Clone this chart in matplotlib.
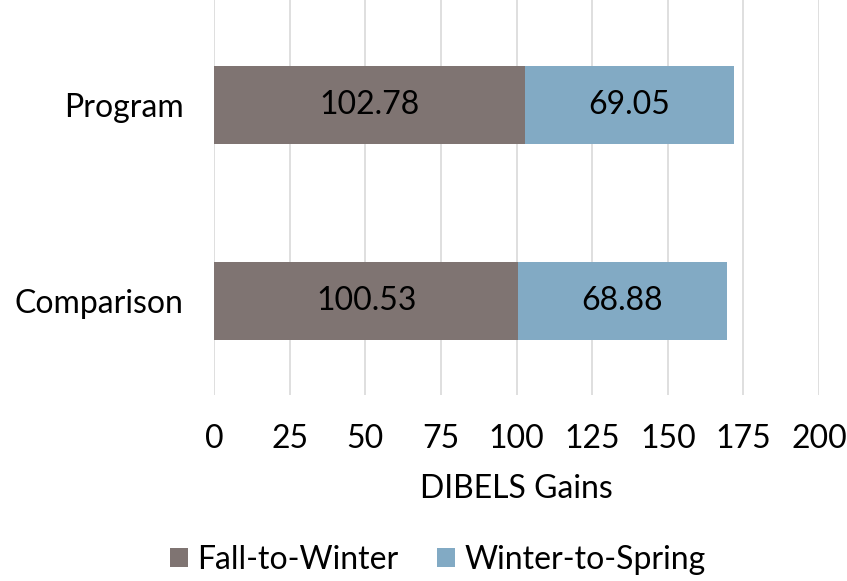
import matplotlib.pyplot as plt

groups = ['Comparison', 'Program']
fall_to_winter = [100.53, 102.78]
winter_to_spring = [68.88, 69.05]
series_names = ['Fall-to-Winter', 'Winter-to-Spring']
xticks = [0, 25, 50, 75, 100, 125, 150, 175, 200]

plt.rcParams['font.family'] = ['Lato', 'DejaVu Sans']
fs = 23

fig = plt.figure(figsize=(8.47, 5.81), dpi=100)
ax = fig.add_axes([0.2527, 0.32, 0.7143, 0.68])

c1 = '#7f7472'
c2 = '#82aac4'
y = list(range(len(groups)))
b1 = ax.barh(y, fall_to_winter, height=0.4, color=c1, label=series_names[0], zorder=3)
b2 = ax.barh(y, winter_to_spring, height=0.4, left=fall_to_winter, color=c2,
             label=series_names[1], zorder=3)
for bars in (b1, b2):
    ax.bar_label(bars, labels=['%.2f' % b.get_width() for b in bars],
                 label_type='center', fontsize=fs, color='black')

ax.set_xlim(0, 200)
ax.set_ylim(-0.48, 1.536)
ax.set_xticks(xticks)
ax.set_yticks(y)
ax.set_yticklabels(groups)
ax.tick_params(axis='both', length=0, labelsize=fs)
ax.tick_params(axis='y', pad=22)
ax.tick_params(axis='x', pad=21)
ax.xaxis.grid(True, color='#d9d9d9', linewidth=1.2, zorder=0)
for s in ax.spines.values():
    s.set_visible(False)
ax.set_xlabel('DIBELS Gains', fontsize=fs, labelpad=14)

fig.legend(handles=[b1, b2], loc='center', bbox_to_anchor=(438 / 847, 1 - 560 / 581),
           ncol=2, frameon=False, fontsize=fs, handlelength=0.55, handleheight=0.55,
           handletextpad=0.3, columnspacing=1.2)

plt.savefig('out.png')
